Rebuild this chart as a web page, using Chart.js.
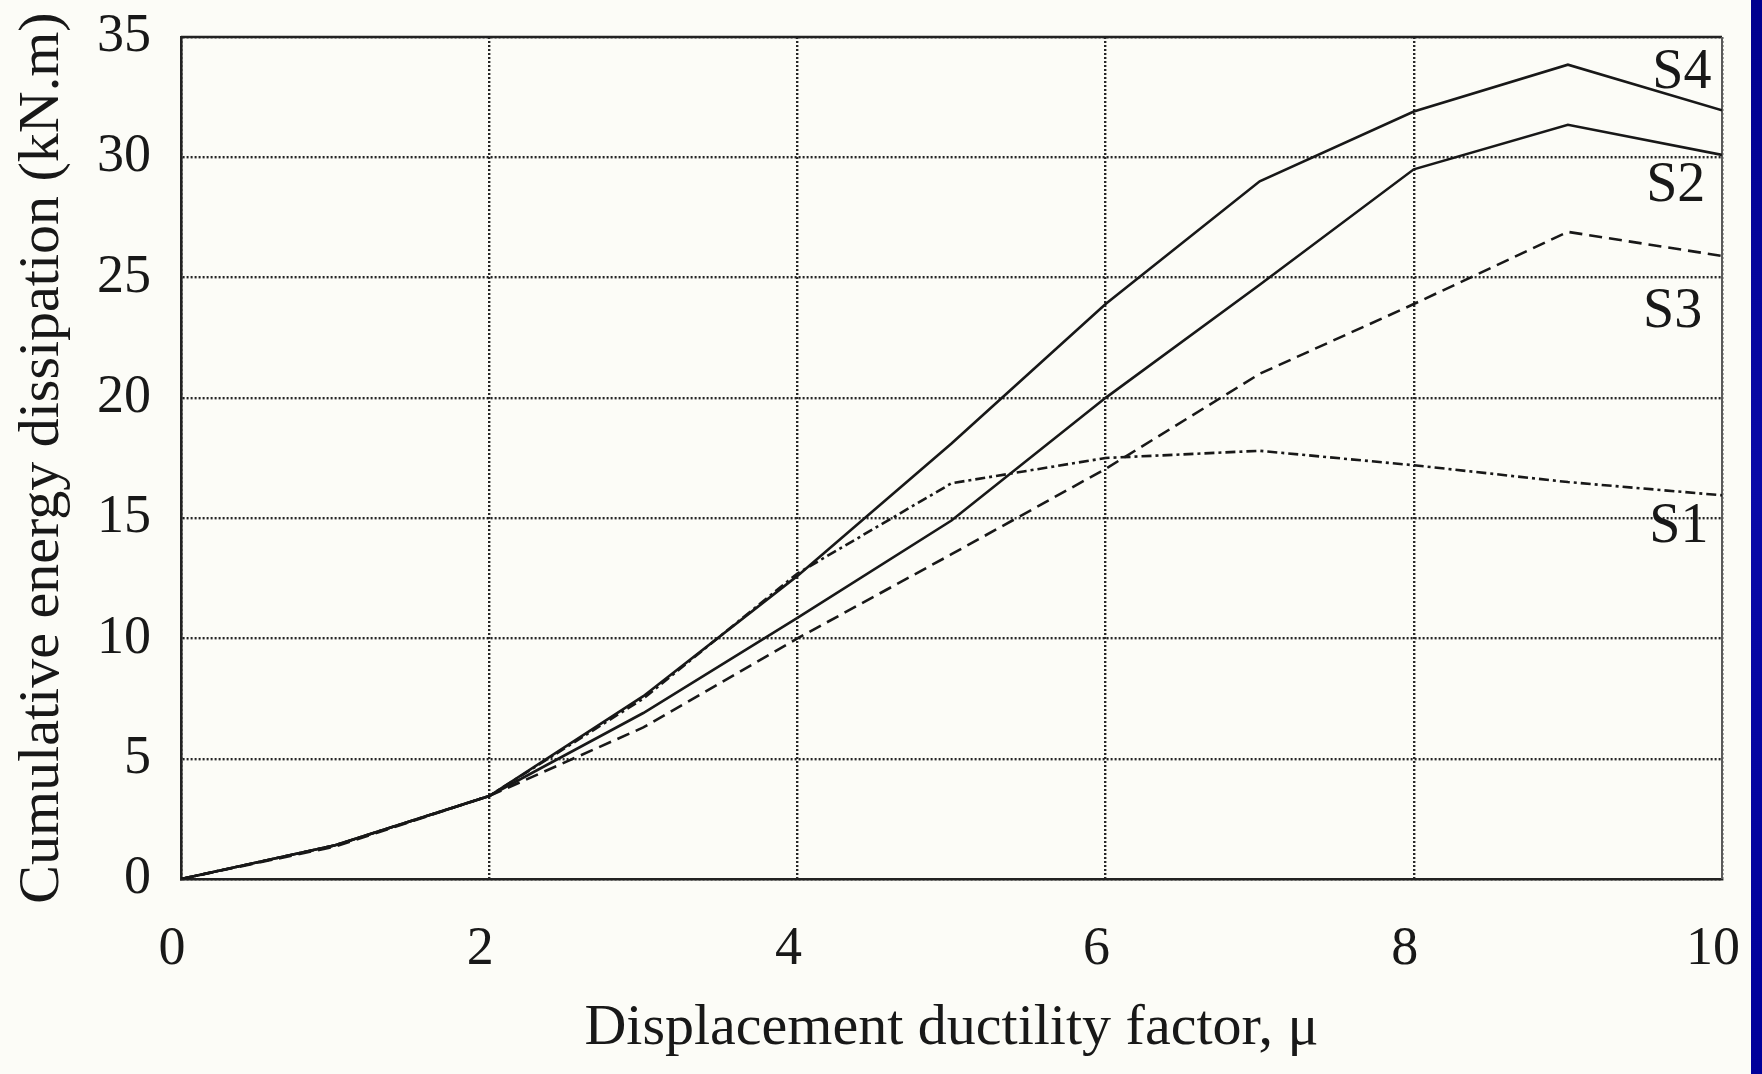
<!DOCTYPE html>
<html>
<head>
<meta charset="utf-8">
<script src="https://cdn.jsdelivr.net/npm/chart.js@4"></script>
<style>
  html, body { margin: 0; padding: 0; background: #fcfcf7; }
  #wrap { position: relative; width: 1762px; height: 1074px; overflow: hidden; background: #fcfcf7; }
  #strip { position: absolute; left: 1751px; top: 0; width: 11px; height: 1074px;
           background: linear-gradient(160deg, #00008e 0%, #0a0aa8 45%, #00009a 100%); }
  canvas { position: absolute; left: 0; top: 0; }
</style>
</head>
<body>
<div id="wrap">
  <canvas id="c" width="1762" height="1074"></canvas>
  <div id="strip"></div>
</div>
<script>
// ---- data ----
const mu = [0, 1, 2, 3, 4, 5, 6, 7, 8, 9, 10];
const S1 = [0, 1.4, 3.45, 7.5, 12.7, 16.45, 17.5, 17.8, 17.2, 16.5, 15.95];
const S2 = [0, 1.4, 3.45, 6.9, 10.85, 14.9, 20.0, 24.7, 29.5, 31.35, 30.1];
const S3 = [0, 1.35, 3.45, 6.3, 10.0, 13.5, 17.05, 21.0, 23.9, 26.9, 25.9];
const S4 = [0, 1.4, 3.45, 7.6, 12.6, 18.1, 23.9, 29.0, 31.9, 33.85, 31.95];
const seriesNames = ['S1', 'S2', 'S3', 'S4'];
const labelX = [9.72, 9.70, 9.68, 9.74];
const labelY = [14.6, 28.8, 23.55, 33.5];
const xTicks = [0, 2, 4, 6, 8, 10];
const yTicks = [0, 5, 10, 15, 20, 25, 30, 35];
const xTitle = 'Displacement ductility factor, \u03bc';
const yTitle = 'Cumulative energy dissipation (kN.m)';

const FONT = '"Liberation Serif", "Times New Roman", serif';
const INK = '#181818';

const toPts = arr => arr.map((v, i) => ({ x: mu[i], y: v }));

const frame = {
  id: 'frame',
  beforeDatasetsDraw(chart) {
    const { ctx, chartArea: a } = chart;
    ctx.save();
    ctx.setLineDash([]);
    ctx.strokeStyle = '#222';
    ctx.lineWidth = 2.5;
    ctx.beginPath();
    ctx.moveTo(a.left, a.top);
    ctx.lineTo(a.right, a.top);
    ctx.stroke();
    ctx.strokeStyle = '#5a5a5a';
    ctx.lineWidth = 2;
    ctx.beginPath();
    ctx.moveTo(a.right, a.top);
    ctx.lineTo(a.right, a.bottom);
    ctx.stroke();
    ctx.restore();
  }
};

const seriesLabels = {
  id: 'seriesLabels',
  afterDatasetsDraw(chart) {
    const { ctx, scales } = chart;
    ctx.save();
    ctx.fillStyle = INK;
    ctx.font = '56px ' + FONT;
    ctx.textAlign = 'center';
    ctx.textBaseline = 'middle';
    seriesNames.forEach((n, i) => {
      ctx.fillText(n, scales.x.getPixelForValue(labelX[i]), scales.y.getPixelForValue(labelY[i]));
    });
    ctx.restore();
  }
};

const dsBase = { borderColor: INK, borderWidth: 2.6, pointRadius: 0, tension: 0, fill: false };

new Chart(document.getElementById('c'), {
  type: 'line',
  data: {
    datasets: [
      Object.assign({ label: 'S1', data: toPts(S1), borderDash: [10, 4, 3, 4] }, dsBase),
      Object.assign({ label: 'S2', data: toPts(S2) }, dsBase),
      Object.assign({ label: 'S3', data: toPts(S3), borderDash: [13, 7] }, dsBase),
      Object.assign({ label: 'S4', data: toPts(S4) }, dsBase)
    ]
  },
  options: {
    responsive: false,
    animation: false,
    devicePixelRatio: 1,
    layout: { padding: { left: 0, right: 40, top: 37, bottom: 0 } },
    plugins: { legend: { display: false }, tooltip: { enabled: false } },
    scales: {
      x: {
        type: 'linear', min: 0, max: 10,
        afterBuildTicks: s => { s.ticks = xTicks.map(v => ({ value: v })); },
        afterFit: s => { s.height = 195; s.paddingLeft = 0; s.paddingRight = 0; },
        grid: { color: '#262626', lineWidth: 2.4, drawTicks: false },
        border: { display: true, color: '#222', width: 2.6, dash: [2, 2] },
        ticks: { color: INK, font: { family: FONT, size: 54 }, padding: 38, maxRotation: 0, labelOffset: -9 },
        title: { display: true, text: xTitle, color: INK, font: { family: FONT, size: 58 }, padding: { top: 0, bottom: 10 } }
      },
      y: {
        type: 'linear', min: 0, max: 35,
        afterBuildTicks: s => { s.ticks = yTicks.map(v => ({ value: v })); },
        afterFit: s => { s.width = 181; s.paddingTop = 0; s.paddingBottom = 0; },
        grid: { color: '#262626', lineWidth: 2.4, drawTicks: false },
        border: { display: true, color: '#222', width: 2.6, dash: [2, 2] },
        ticks: { color: INK, font: { family: FONT, size: 54 }, padding: 30 },
        title: { display: true, text: yTitle, color: INK, font: { family: FONT, size: 58 }, padding: { top: 8, bottom: 0 } }
      }
    }
  },
  plugins: [frame, seriesLabels]
});
</script>
</body>
</html>
